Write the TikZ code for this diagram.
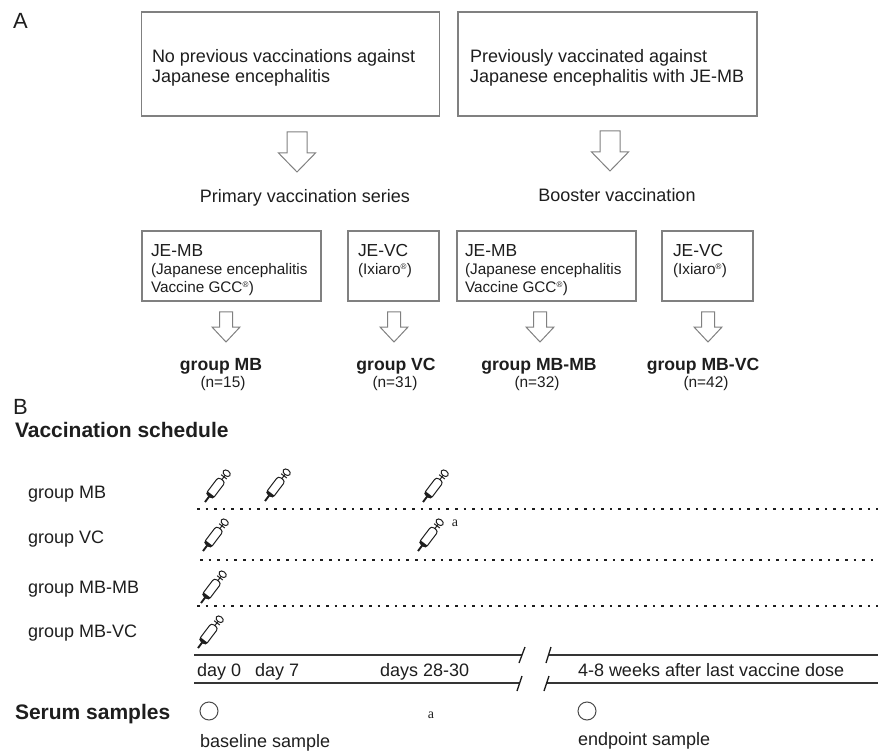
\documentclass[tikz,border=0pt]{standalone}
\usepackage{fontspec}
\setmainfont{Liberation Sans}
\newfontfamily\serifa{Liberation Serif}
\usetikzlibrary{calc}
\definecolor{boxgray}{HTML}{808080}
\definecolor{ink}{HTML}{1E1E1E}
\newcommand{\regmark}{\textsuperscript{\fontsize{8}{8}\selectfont ®}}
\tikzset{
  box/.style={draw=boxgray, line width=1.1pt, inner sep=0, outer sep=0},
  txt/.style={inner sep=0, outer sep=0, text=ink, font=\fontsize{18}{20}\selectfont},
  subtxt/.style={inner sep=0, outer sep=0, text=ink, font=\fontsize{15.3}{18}\selectfont},
  bigtxt/.style={inner sep=0, outer sep=0, text=ink, font=\fontsize{22}{24}\selectfont},
  headtxt/.style={inner sep=0, outer sep=0, text=ink, font=\fontsize{21}{24}\selectfont\bfseries},
  grptxt/.style={inner sep=0, outer sep=0, text=ink, font=\fontsize{17.6}{20}\selectfont\bfseries},
  ntxt/.style={inner sep=0, outer sep=0, text=ink, font=\fontsize{15.4}{18}\selectfont},
  notetxt/.style={inner sep=0, outer sep=0, text=ink, font=\fontsize{14}{16}\serifa},
  dotline/.style={draw=ink, line width=1.8pt, dash pattern=on 2.6pt off 6pt},
  tline/.style={draw=ink!90, line width=1.5pt},
  slash/.style={draw=ink, line width=1.3pt},
  sample/.style={circle, draw=ink!80, line width=1pt, minimum size=18pt, inner sep=0},
  bigdown/.pic={
    \draw[boxgray, line width=1pt, line join=miter]
      (-10,0) -- (-10,21) -- (-18.5,21) -- (0,40) -- (18.5,21) -- (10,21) -- (10,0) -- cycle;
  },
  smalldown/.pic={
    \draw[boxgray, line width=1pt, line join=miter]
      (-6.5,0) -- (-6.5,15) -- (-14,15) -- (0,30) -- (14,15) -- (6.5,15) -- (6.5,0) -- cycle;
  },
  syringe/.pic={
    \draw[ink, line width=1.9pt] (0,0) -- (8,0);
    \draw[ink, line width=1pt, rounded corners=3pt] (7,-4.3) rectangle (28,4.3);
    \fill[ink] (7.4,-3.9) rectangle (10,3.9);
    \draw[ink, line width=1pt] (28,0) -- (33,0);
    \draw[ink, line width=1pt] (31.5,-3.6) -- (31.5,3.6);
    \draw[ink, line width=1pt] (36,0) ellipse (2.8 and 4);
  },
}
\begin{document}
\begin{tikzpicture}[x=1pt, y=-1pt]
\useasboundingbox (0,0) rectangle (878,751);

% ---------------- Panel A ----------------
\node[bigtxt, anchor=base west] (labA) at (13,29) {A};

\node[box, minimum width=298pt, minimum height=104pt] (b1) at (290.5,64) {};
\node[box, minimum width=299pt, minimum height=104pt] (b2) at (607.5,64) {};
\node[txt, anchor=base west, align=left] (t1) at (152,83) {No previous vaccinations against\\Japanese encephalitis};
\node[txt, anchor=base west, align=left] (t2) at (470,83) {Previously vaccinated against\\Japanese encephalitis with JE-MB};

\pic at (297,132) {bigdown};
\pic at (610,131) {bigdown};

\node[txt, anchor=base] (prim) at (305,203) {Primary vaccination series};
\node[txt, anchor=base] (boost) at (617,202) {Booster vaccination};

% small boxes
\node[box, minimum width=179pt, minimum height=70pt] (s1) at (231.5,266) {};
\node[box, minimum width=91pt, minimum height=70pt] (s2) at (393.5,266) {};
\node[box, minimum width=179pt, minimum height=70pt] (s3) at (546.5,266) {};
\node[box, minimum width=91pt, minimum height=70pt] (s4) at (707.5,266) {};

\node[txt, font=\fontsize{17.4}{20}\selectfont, anchor=base west] (s1a) at (151,257) {JE-MB};
\node[subtxt, anchor=base west] (s1b) at (151,275) {(Japanese encephalitis};
\node[subtxt, anchor=base west] (s1c) at (151,293) {Vaccine GCC\regmark)};
\node[txt, font=\fontsize{17.4}{20}\selectfont, anchor=base west] (s2a) at (358,257) {JE-VC};
\node[subtxt, anchor=base west] (s2b) at (358,275) {(Ixiaro\regmark)};
\node[txt, font=\fontsize{17.4}{20}\selectfont, anchor=base west] (s3a) at (465,257) {JE-MB};
\node[subtxt, anchor=base west] (s3b) at (465,275) {(Japanese encephalitis};
\node[subtxt, anchor=base west] (s3c) at (465,293) {Vaccine GCC\regmark)};
\node[txt, font=\fontsize{17.4}{20}\selectfont, anchor=base west] (s4a) at (673,257) {JE-VC};
\node[subtxt, anchor=base west] (s4b) at (673,275) {(Ixiaro\regmark)};

\pic at (226,312) {smalldown};
\pic at (394,312) {smalldown};
\pic at (540,312) {smalldown};
\pic at (708,312) {smalldown};

\node[grptxt, anchor=base] (g1) at (221,370) {group MB};
\node[ntxt, anchor=base] (n1) at (223,387) {(n=15)};
\node[grptxt, anchor=base] (g2) at (396,370) {group VC};
\node[ntxt, anchor=base] (n2) at (395,387) {(n=31)};
\node[grptxt, anchor=base] (g3) at (539,370) {group MB-MB};
\node[ntxt, anchor=base] (n3) at (537,387) {(n=32)};
\node[grptxt, anchor=base] (g4) at (703,370) {group MB-VC};
\node[ntxt, anchor=base] (n4) at (706,387) {(n=42)};

% ---------------- Panel B ----------------
\node[bigtxt, anchor=base west] (labB) at (13,414) {B};
\node[headtxt, anchor=base west] (vs) at (15,437) {Vaccination schedule};

\node[txt, anchor=base west] (r1) at (28,498) {group MB};
\node[txt, anchor=base west] (r2) at (28,543) {group VC};
\node[txt, anchor=base west] (r3) at (28,593) {group MB-MB};
\node[txt, anchor=base west] (r4) at (28,637) {group MB-VC};

\coordinate (d1a) at (197,509); \coordinate (d1b) at (878,509);
\coordinate (d2a) at (200,560); \coordinate (d2b) at (874,560);
\coordinate (d3a) at (197,606); \coordinate (d3b) at (878,606);
\draw[dotline] (d1a) -- (d1b);
\draw[dotline] (d2a) -- (d2b);
\draw[dotline] (d3a) -- (d3b);

% syringes
\pic[rotate=53] at (205,502) {syringe};
\pic[rotate=53] at (265,501) {syringe};
\pic[rotate=53] at (423,502) {syringe};
\pic[rotate=53] at (203,551) {syringe};
\pic[rotate=53] at (418,551) {syringe};
\pic[rotate=53] at (201,603) {syringe};
\pic[rotate=53] at (198,648) {syringe};
\node[notetxt] (na1) at (455,523) {a};

% timeline
\coordinate (u1) at (194,655); \coordinate (u2) at (522,655);
\coordinate (u3) at (548,655); \coordinate (u4) at (878,655);
\coordinate (l1) at (194,683); \coordinate (l2) at (520,683);
\coordinate (l3) at (546,683); \coordinate (l4) at (878,683);
\draw[tline] (u1) -- (u2);
\draw[tline] (u3) -- (u4);
\draw[tline] (l1) -- (l2);
\draw[tline] (l3) -- (l4);
\draw[slash] ($(u2)+(-3,8)$) -- ($(u2)+(3,-8)$);
\draw[slash] ($(u3)+(-2,8)$) -- ($(u3)+(3,-8)$);
\draw[slash] ($(l2)+(-3,8)$) -- ($(l2)+(2,-7)$);
\draw[slash] ($(l3)+(-2,8)$) -- ($(l3)+(3,-7)$);

\node[txt, anchor=base west] (day0) at (197,676) {day 0};
\node[txt, anchor=base west] (day7) at (255,676) {day 7};
\node[txt, anchor=base west] (day28) at (380,676) {days 28-30};
\node[txt, anchor=base west] (wk) at (578,676) {4-8 weeks after last vaccine dose};

\node[headtxt, anchor=base west] (ss) at (15,719) {Serum samples};
\node[sample] (c1) at (209,711) {};
\node[sample] (c2) at (587,711) {};
\node[notetxt] (na2) at (431,715) {a};
\node[txt, anchor=base west] (bs) at (200,747) {baseline sample};
\node[txt, anchor=base west] (es) at (578,745) {endpoint sample};
\end{tikzpicture}
\end{document}
